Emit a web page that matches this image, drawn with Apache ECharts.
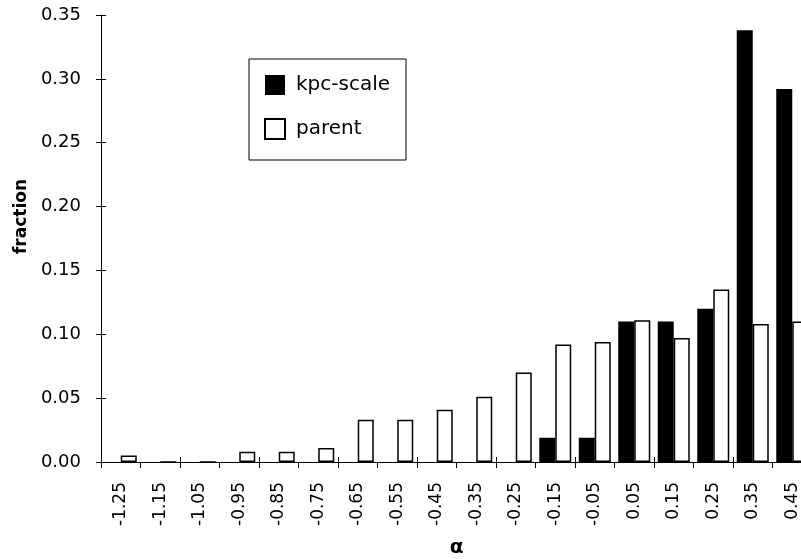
<!DOCTYPE html>
<html>
<head>
<meta charset="utf-8">
<script src="https://cdn.jsdelivr.net/npm/echarts@6/dist/echarts.min.js"></script>
<style>
  html, body { margin: 0; padding: 0; background: #fff; }
  #chart { width: 801px; height: 559px; }
</style>
</head>
<body>
<div id="chart"></div>
<script>
// Spectral index bins (alpha) and the fraction of sources in each bin
const alphaBins = ['-1.25', '-1.15', '-1.05', '-0.95', '-0.85', '-0.75', '-0.65', '-0.55', '-0.45',
                   '-0.35', '-0.25', '-0.15', '-0.05', '0.05', '0.15', '0.25', '0.35', '0.45'];
const kpcScale = [0, 0, 0, 0, 0, 0, 0, 0, 0, 0, 0, 0.019, 0.019, 0.110, 0.110, 0.120, 0.338, 0.292];
const parent   = [0.005, 0, 0, 0.008, 0.008, 0.011, 0.033, 0.033, 0.041, 0.051, 0.070, 0.092, 0.094,
                  0.111, 0.097, 0.135, 0.108, 0.110];
const yMin = 0, yMax = 0.35, yStep = 0.05;

const FONT = '"DejaVu Sans", "Liberation Sans", sans-serif';
const chart = echarts.init(document.getElementById('chart'), null, { renderer: 'canvas' });

// the last bin runs past the right edge of the canvas
const gridBox = { left: 101, top: 15, width: 711, height: 447, outerBoundsMode: 'none', containLabel: false };

chart.setOption({
  animation: false,
  backgroundColor: '#ffffff',
  textStyle: { fontFamily: FONT, color: '#000' },
  grid: gridBox,
  legend: {
    orient: 'vertical',
    left: 249,
    top: 59,
    padding: [15, 16, 20, 15],
    borderColor: '#000',
    borderWidth: 1,
    itemWidth: 20,
    itemHeight: 20,
    itemGap: 22,
    icon: 'rect',
    textStyle: { fontFamily: FONT, fontSize: 20, lineHeight: 22, color: '#000', padding: [0, 0, 0, 6] },
    data: ['kpc-scale', 'parent']
  },
  xAxis: [
    {
      type: 'category',
      data: alphaBins,
      position: 'bottom',
      name: 'α',
      nameLocation: 'middle',
      nameGap: 76,
      nameTextStyle: { fontFamily: FONT, fontSize: 20, fontWeight: 'bold', color: '#000', verticalAlign: 'top' },
      axisLine: { show: true, lineStyle: { color: '#000', width: 1 } },
      axisTick: { show: true, length: 6, lineStyle: { color: '#000' } },
      axisLabel: { rotate: 90, margin: 20, fontFamily: FONT, fontSize: 17, color: '#000', interval: 0 },
      splitLine: { show: false }
    },
    {
      // inward half of the crossing ticks
      type: 'category',
      data: alphaBins,
      position: 'bottom',
      axisLine: { show: false },
      axisTick: { show: true, inside: true, length: 5, lineStyle: { color: '#000' } },
      axisLabel: { show: false },
      splitLine: { show: false }
    }
  ],
  yAxis: [
    {
      type: 'value',
      min: yMin,
      max: yMax,
      interval: yStep,
      name: 'fraction',
      nameLocation: 'middle',
      nameGap: 70,
      nameTextStyle: { fontFamily: FONT, fontSize: 17, fontWeight: 'bold', color: '#000', padding: [0, 0, 0, 44] },
      axisLine: { show: true, lineStyle: { color: '#000', width: 1 } },
      axisTick: { show: true, length: 5, lineStyle: { color: '#000' } },
      axisLabel: { margin: 20, fontFamily: FONT, fontSize: 18, color: '#000', formatter: v => v.toFixed(2) },
      splitLine: { show: false }
    },
    {
      // inward half of the crossing ticks
      type: 'value',
      min: yMin,
      max: yMax,
      interval: yStep,
      position: 'left',
      axisLine: { show: false },
      axisTick: { show: true, inside: true, length: 5, lineStyle: { color: '#000' } },
      axisLabel: { show: false },
      splitLine: { show: false }
    }
  ],
  series: [
    {
      name: 'kpc-scale',
      type: 'bar',
      data: kpcScale,
      barWidth: 16,
      barGap: '0%',
      itemStyle: { color: '#000', borderWidth: 0 }
    },
    {
      name: 'parent',
      type: 'bar',
      data: parent,
      barWidth: 16,
      barGap: '0%',
      itemStyle: { color: '#fff', borderColor: '#000', borderWidth: 1.5 }
    }
  ]
});
</script>
</body>
</html>
